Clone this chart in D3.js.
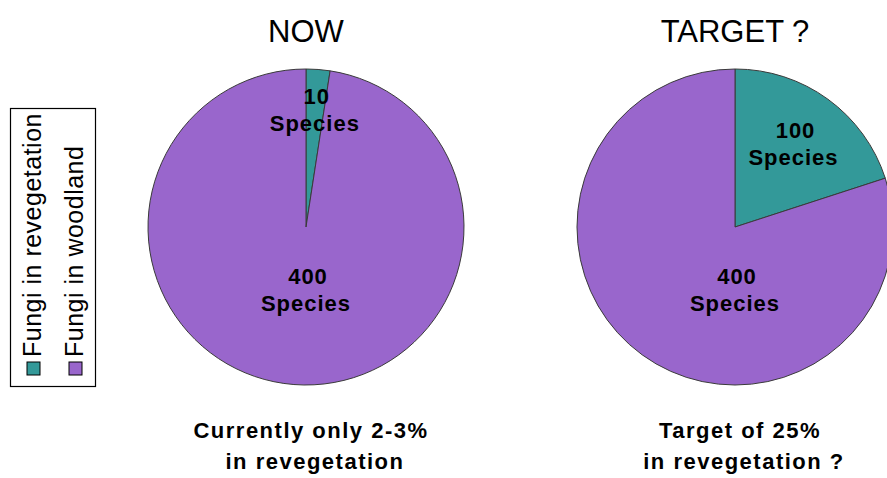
<!DOCTYPE html>
<html>
<head>
<meta charset="utf-8">
<script src="https://cdn.jsdelivr.net/npm/d3@7"></script>
<style>
  html, body { margin: 0; padding: 0; background: #ffffff; }
  svg { display: block; font-family: "Liberation Sans", Arial, sans-serif; }
</style>
</head>
<body>
<svg id="chart" width="887" height="478"></svg>
<script>
// Species counts of fungi: revegetation vs woodland
const categories = ["Fungi in revegetation", "Fungi in woodland"];
const nowValues = [10, 400];
const targetValues = [100, 400];
const chartTitles = ["NOW", "TARGET ?"];
const captionLines = [
  ["Currently only 2-3%", "in revegetation"],
  ["Target of 25%", "in revegetation ?"]
];
const unitLabel = "Species";

const sliceColors = ["#339999", "#9966cc"];

const svg = d3.select("#chart");
const radius = 158;

const panels = [
  { values: nowValues, title: chartTitles[0], caption: captionLines[0], cx: 306, cy: 227, smallLabelR: 0.73 },
  { values: targetValues, title: chartTitles[1], caption: captionLines[1], cx: 735, cy: 227, smallLabelR: 0.63 }
];

const pie = d3.pie().sort(null).value(d => d.value).startAngle(0).endAngle(2 * Math.PI);
const arc = d3.arc().innerRadius(0).outerRadius(radius);

panels.forEach(p => {
  const data = categories.map((c, i) => ({ category: c, value: p.values[i], idx: i }));
  const arcs = pie(data);
  const g = svg.append("g").attr("transform", `translate(${p.cx},${p.cy})`);

  g.selectAll("path.slice")
    .data(arcs)
    .enter().append("path")
    .attr("class", "slice")
    .attr("d", arc)
    .attr("fill", d => sliceColors[d.data.idx])
    .attr("stroke", "#3a3a3a")
    .attr("stroke-width", 1);

  // value labels: revegetation slice label sits along its mid-angle,
  // woodland label sits straight below the centre
  arcs.forEach(a => {
    let lx, ly;
    if (a.data.idx === 0) {
      const mid = (a.startAngle + a.endAngle) / 2;
      const rr = radius * p.smallLabelR;
      lx = rr * Math.sin(mid);
      ly = -rr * Math.cos(mid);
    } else {
      lx = 0;
      ly = 65;
    }
    const t = g.append("text")
      .attr("text-anchor", "middle")
      .attr("font-weight", "bold")
      .attr("font-size", 22)
      .attr("letter-spacing", 1)
      .attr("fill", "#000");
    t.append("tspan").attr("x", lx + 2).attr("y", ly - 8).text(String(a.data.value));
    t.append("tspan").attr("x", lx).attr("y", ly + 19).text(unitLabel);
  });

  // title
  svg.append("text")
    .attr("x", p.cx)
    .attr("y", 42)
    .attr("text-anchor", "middle")
    .attr("font-size", 31)
    .attr("fill", "#000")
    .text(p.title);

  // caption below the pie
  const cap = svg.append("text")
    .attr("text-anchor", "middle")
    .attr("font-weight", "bold")
    .attr("font-size", 22)
    .attr("letter-spacing", 1.5)
    .attr("fill", "#000");
  cap.append("tspan").attr("x", p.cx + 5).attr("y", 438).text(p.caption[0]);
  cap.append("tspan").attr("x", p.cx + 9).attr("y", 469).text(p.caption[1]);
});

// rotated legend box on the left
const legend = svg.append("g");
legend.append("rect")
  .attr("x", 10.5).attr("y", 108.5)
  .attr("width", 85).attr("height", 278)
  .attr("fill", "#fff")
  .attr("stroke", "#000")
  .attr("stroke-width", 1.2);

const legendCols = [41, 83];
categories.forEach((c, i) => {
  const bx = legendCols[i];
  legend.append("rect")
    .attr("x", bx - 14).attr("y", 362)
    .attr("width", 13).attr("height", 13)
    .attr("fill", sliceColors[i])
    .attr("stroke", "#000")
    .attr("stroke-width", 1);
  legend.append("text")
    .attr("transform", `translate(${bx},357) rotate(-90)`)
    .attr("font-size", 25)
    .attr("letter-spacing", 0.5)
    .attr("fill", "#000")
    .text(c);
});
</script>
</body>
</html>
